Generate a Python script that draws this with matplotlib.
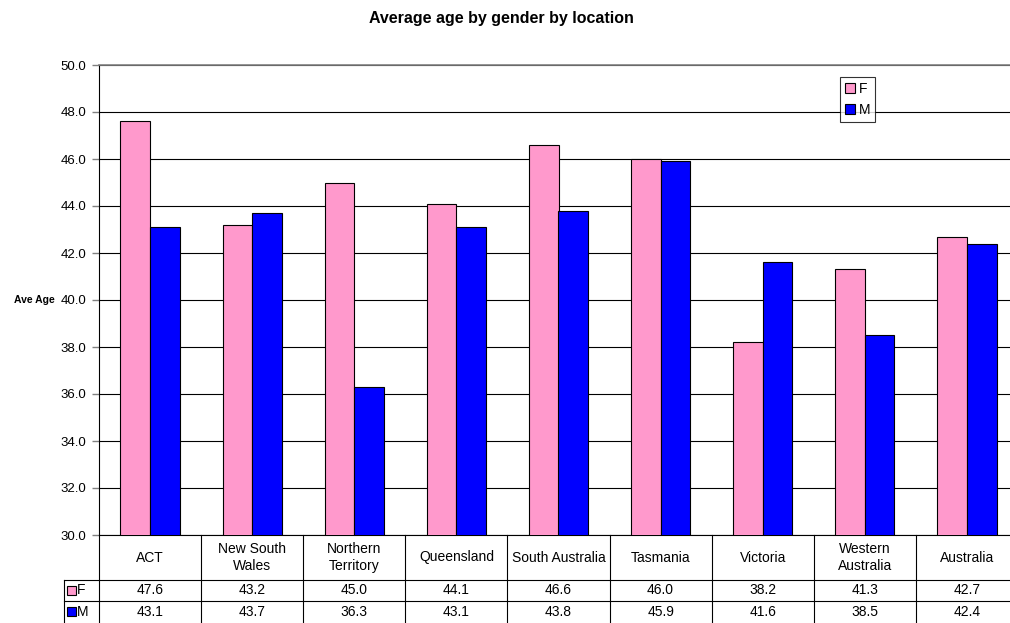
import matplotlib.pyplot as plt
import matplotlib.transforms as mtransforms
from matplotlib.patches import Rectangle, Patch

plt.rcParams['font.family'] = ['Liberation Sans', 'DejaVu Sans']

locations = ["ACT", "New South\nWales", "Northern\nTerritory", "Queensland",
             "South Australia", "Tasmania", "Victoria", "Western\nAustralia",
             "Australia"]
female = [47.6, 43.2, 45.0, 44.1, 46.6, 46.0, 38.2, 41.3, 42.7]
male = [43.1, 43.7, 36.3, 43.1, 43.8, 45.9, 41.6, 38.5, 42.4]
series = ["F", "M"]
colors = ["#FF99CC", "#0000FF"]

fig = plt.figure(figsize=(10.1, 6.23), dpi=100)
ax = fig.add_axes([99 / 1010, 88 / 623, 919 / 1010, 470 / 623])

n = len(locations)
w = 0.29
xs = list(range(n))
ax.bar([x - w / 2 for x in xs], female, w, color=colors[0],
       edgecolor="black", linewidth=0.8, zorder=3)
ax.bar([x + w / 2 for x in xs], male, w, color=colors[1],
       edgecolor="black", linewidth=0.8, zorder=3)

ax.set_xlim(-0.5, n - 0.5)
ax.set_ylim(30, 50)
ax.set_yticks([30 + 2 * i for i in range(11)])
ax.set_yticklabels([f"{30 + 2 * i:.1f}" for i in range(11)], fontsize=9.5)
ax.set_xticks([])
ax.tick_params(axis="y", length=5, width=1, color="#808080", pad=4)
ax.yaxis.grid(True, color="black", linewidth=0.8)
ax.set_axisbelow(True)
ax.spines["right"].set_visible(False)
ax.spines["top"].set_color("#808080")
ax.spines["top"].set_linewidth(1.2)
ax.spines["left"].set_linewidth(0.8)
ax.spines["bottom"].set_linewidth(0.8)

ax.set_ylabel("Ave Age", fontsize=7.5, fontweight="bold", rotation=0,
              ha="right", va="center")
ax.yaxis.set_label_coords(-44 / 919, 0.5)

fig.text(501 / 1010, 1 - 18 / 623, "Average age by gender by location",
         ha="center", va="center", fontsize=11.5, fontweight="bold")

# data table below the plot
trans = mtransforms.blended_transform_factory(ax.transData, ax.transAxes)
y_head = -(580 - 535) / 470
y_f = -(601 - 535) / 470
y_m = -(622 - 535) / 470
x_lab = -0.5 - 35 / 102
lkw = dict(color="black", linewidth=0.8, transform=trans, clip_on=False)
for i in range(n + 1):
    ax.plot([i - 0.5, i - 0.5], [0, y_m], **lkw)
ax.plot([x_lab, x_lab], [y_head, y_m], **lkw)
ax.plot([x_lab, n - 0.5], [y_head, y_head], **lkw)
ax.plot([x_lab, n - 0.5], [y_f, y_f], **lkw)
for i, loc in enumerate(locations):
    ax.text(i, y_head / 2, loc, transform=trans, ha="center", va="center",
            fontsize=10)
    ax.text(i, (y_head + y_f) / 2, f"{female[i]:.1f}", transform=trans,
            ha="center", va="center", fontsize=10)
    ax.text(i, (y_f + y_m) / 2, f"{male[i]:.1f}", transform=trans,
            ha="center", va="center", fontsize=10)
for k, (name, yy) in enumerate([(series[0], (y_head + y_f) / 2),
                                 (series[1], (y_f + y_m) / 2)]):
    ax.add_patch(Rectangle((x_lab + 0.03, yy - 0.0095), 0.085, 0.019,
                           transform=trans, facecolor=colors[k],
                           edgecolor="black", linewidth=0.8, clip_on=False))
    ax.text(x_lab + 0.13, yy, name, transform=trans, ha="left", va="center",
            fontsize=10)

# legend
handles = [Patch(facecolor=c, edgecolor="black", linewidth=0.8) for c in colors]
leg = ax.legend(handles, series, loc="upper left",
                bbox_to_anchor=((840 - 99) / 919, 1 - (77 - 65) / 470),
                fontsize=10, frameon=True, fancybox=False, handlelength=0.75,
                handleheight=0.75, handletextpad=0.25, borderpad=0.35,
                labelspacing=0.5, borderaxespad=0)
leg.get_frame().set_edgecolor("black")
leg.get_frame().set_linewidth(0.8)

fig.savefig("out.png", dpi=100)
